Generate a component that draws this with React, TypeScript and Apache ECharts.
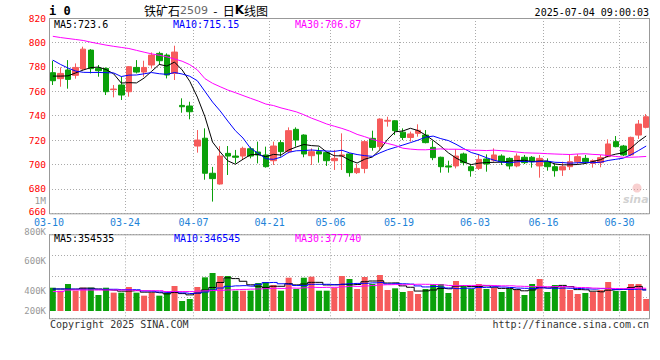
import React, { useEffect, useRef } from 'react';
import * as echarts from 'echarts';

const dates = [
  '03-10','03-11','03-12','03-13','03-14','03-17','03-18','03-19','03-20','03-21',
  '03-24','03-25','03-26','03-27','03-28','03-31','04-01','04-02','04-03','04-07',
  '04-08','04-09','04-10','04-11','04-14','04-15','04-16','04-17','04-18','04-21',
  '04-22','04-23','04-24','04-25','04-28','04-29','04-30','05-06','05-07','05-08',
  '05-09','05-12','05-13','05-14','05-15','05-16','05-19','05-20','05-21','05-22',
  '05-23','05-26','05-27','05-28','05-29','05-30','06-03','06-04','06-05','06-06',
  '06-09','06-10','06-11','06-12','06-13','06-16','06-17','06-18','06-19','06-20',
  '06-23','06-24','06-25','06-26','06-27','06-30','07-01','07-02','07-03'
];
const nextDate = '07-04';
const labelDates = ['03-10','03-24','04-07','04-21','05-06','05-19','06-03','06-16','06-30'];

const opens = [
  775.2,770.3,777.4,773.0,778.2,793.7,778.7,778.7,761.3,765.1,
  759.6,779.5,775.7,781.5,791.0,789.6,774.6,748.4,747.9,715.1,
  721.5,692.8,684.0,709.1,706.9,706.9,712.9,710.2,707.8,703.1,
  717.9,710.5,728.8,724.1,707.2,710.5,709.7,703.1,706.9,708.6,
  693.3,696.8,721.4,714.6,735.5,735.8,726.5,722.1,725.5,724.1,
  714.0,705.9,698.8,698.8,708.6,698.2,696.8,704.5,703.5,706.9,
  705.0,698.8,705.9,705.9,698.8,702.3,698.2,695.5,698.2,702.3,
  705.0,700.9,701.5,706.4,718.7,715.1,707.8,724.1,730.4
];
const closes = [
  768.6,774.6,769.7,779.5,794.5,778.5,776.8,759.6,761.8,756.9,
  780.1,775.7,779.5,789.6,785.0,773.3,792.1,747.3,743.2,720.0,
  692.8,688.4,706.9,706.9,705.9,713.2,706.9,707.8,698.2,715.1,
  710.5,727.7,720.0,708.6,710.5,708.6,703.1,705.0,707.8,693.3,
  696.8,718.7,714.0,737.2,736.2,727.7,722.1,725.0,728.0,717.9,
  705.6,698.2,697.9,706.9,701.5,694.9,704.2,700.4,707.8,702.3,
  698.8,706.9,701.5,702.3,705.0,698.2,694.9,698.2,702.3,706.4,
  702.3,703.1,705.6,716.8,714.6,707.8,722.2,733.1,739.1
];
const lows = [
  765.1,763.7,762.1,770.3,777.4,774.6,771.9,756.9,755.0,752.8,
  755.5,774.6,771.9,778.7,781.5,770.5,769.2,742.4,737.0,709.7,
  687.5,669.6,683.5,691.4,700.9,703.7,705.0,700.9,697.4,699.6,
  706.4,709.1,714.6,705.9,699.6,701.5,698.8,695.5,695.5,690.0,
  692.2,692.8,711.3,712.4,731.0,724.1,720.0,718.7,722.8,717.3,
  703.5,693.3,693.3,696.8,699.3,690.0,695.5,694.1,702.3,699.6,
  696.0,697.7,700.4,697.4,689.2,694.9,690.0,690.6,695.5,700.4,
  700.4,697.4,697.7,705.9,714.0,706.9,706.9,720.9,729.6
];
const highs = [
  785.0,779.5,785.5,782.8,796.5,794.5,781.5,779.5,765.1,771.9,
  780.6,785.5,785.0,791.8,792.4,791.0,797.3,754.2,751.4,728.2,
  729.6,698.0,715.0,715.1,711.9,714.6,714.6,718.7,714.6,718.7,
  720.0,730.4,730.4,724.7,713.2,714.0,710.5,711.9,725.5,709.1,
  700.4,720.0,727.7,737.8,739.1,736.2,729.6,726.9,732.9,728.2,
  719.5,706.4,703.1,712.4,709.7,700.4,708.6,708.3,713.2,708.3,
  705.9,709.1,707.8,706.9,707.8,705.0,700.9,702.3,707.8,708.6,
  707.8,704.2,707.8,720.6,723.3,716.0,722.8,736.4,741.3
];
const volumes = [
  382300,358900,411200,358900,382300,382300,325200,382300,343400,343400,
  387700,343400,319900,343400,319900,343400,395600,278200,293900,387700,
  463300,497300,473800,473800,358900,358900,358900,419000,426900,403400,
  358900,460500,372100,460500,468300,358900,358900,382300,473800,450300,
  372100,466000,411200,481600,364300,377500,348600,356500,333000,372100,
  411200,411200,340800,434700,395600,372100,411200,372100,379900,348600,
  372100,364300,325200,411200,450300,348600,403400,387700,364300,333000,
  340800,348600,364300,426900,356500,356500,411200,411200,293900
];

// moving-average values before enough history is visible
const ma5Lead = [772.4, 772.4, 772.6, 775.0];
const ma10Lead = [785.5, 782.0, 779.0, 776.5, 775.5, 775.4, 775.4, 775.2, 775.0];
const ma30Lead = [
  805.0,804.0,803.2,802.4,801.6,800.2,799.0,797.8,796.8,795.9,
  795.0,793.5,792.0,790.6,789.5,788.2,786.4,784.6,781.8,777.5,
  770.3,766.5,763.7,761.0,758.8,756.5,754.2,752.0,749.5
];
const vma5Lead = [372000, 372000, 370000, 371000];
const vma10Lead = [372000, 372000, 372000, 371000, 371000, 371000, 370000, 370000, 370000];
const vma30Lead = [
  352000,352000,364000,364000,364000,364000,364000,364000,364000,364000,
  364000,359000,359000,359000,359000,352000,352000,352000,352000,356000,
  358000,360000,362000,365000,367000,369000,371000,373000,375000
];

const priceMin = 660, priceMax = 820, priceStep = 20;
const volMin = 200000, volMax = 800000, volStep = 200000;
const volTickText: Record<number, string> = { 800000: '800K', 600000: '600K', 400000: '400K', 200000: '200K' };

const legendMain = ['MA5:723.6', 'MA10:715.15', 'MA30:706.87'];
const legendVol = ['MA5:354535', 'MA10:346545', 'MA30:377740'];

function movingAvg(vals: number[], n: number, lead: number[]) {
  return vals.map((_, i) => {
    if (i < n - 1) return lead[i];
    let s = 0;
    for (let k = i - n + 1; k <= i; k++) s += vals[k];
    return +(s / n).toFixed(2);
  });
}

const RED = '#f65b5b';
const GREEN = '#0aa00a';
const MONO = '"DejaVu Sans Mono", "Liberation Mono", monospace';
const GRIDC = '#aaaaaa';
const FRAME = '#999999';

const L = 49, W = 601;
const T1 = 18, H1 = 195.3;
const T2 = 234.3, H2 = 76.7, H2F = 84;

export default function App() {
  const ref = useRef<HTMLDivElement>(null);
  useEffect(() => {
    document.body.style.margin = '0';
    const chart = echarts.init(ref.current!, null, { renderer: 'svg' });
    const slots = dates.concat([nextDate]);
    const isLabel = (_i: number, v: string) => labelDates.includes(v);
    const isGrid = (i: number, v: string) => i > 0 && labelDates.includes(v);
    const dotted = { color: GRIDC, type: [1, 2] as any, width: 1 };
    const volRich = (pad: number[]) => ({ color: '#999999', fontFamily: MONO, fontSize: 9, lineHeight: 9, padding: pad });
    const priceRich = (pad: number[]) => ({ color: '#ff0000', fontFamily: MONO, fontSize: 9.5, lineHeight: 9, padding: pad });

    const ma5 = movingAvg(closes, 5, ma5Lead);
    const ma10 = movingAvg(closes, 10, ma10Lead);
    const ma30 = movingAvg(closes, 30, ma30Lead);
    const vma5 = movingAvg(volumes, 5, vma5Lead);
    const vma10 = movingAvg(volumes, 10, vma10Lead);
    const vma30 = movingAvg(volumes, 30, vma30Lead);

    const option: any = {
      animation: false,
      backgroundColor: '#ffffff',
      grid: [
        { left: L, top: T1, width: W, height: H1 },
        { left: L, top: T2, width: W, height: H2 },
        { left: L, top: T2, width: W, height: H2F },
      ],
      xAxis: [
        { type: 'category', gridIndex: 0, data: dates, boundaryGap: true, axisLine: { show: false }, axisTick: { show: false }, axisLabel: { show: false }, splitLine: { show: false } },
        {
          type: 'category', gridIndex: 0, data: slots, boundaryGap: false, position: 'bottom',
          axisLine: { show: false }, axisTick: { show: false },
          axisLabel: { interval: isLabel, color: '#1e83d8', fontFamily: MONO, fontSize: 10, margin: 4.5, lineHeight: 10 },
          splitLine: { show: true, interval: isGrid, lineStyle: dotted },
        },
        { type: 'category', gridIndex: 1, data: dates, boundaryGap: true, show: false },
        {
          type: 'category', gridIndex: 2, data: slots, boundaryGap: false,
          axisLine: { show: false }, axisTick: { show: false }, axisLabel: { show: false },
          splitLine: { show: true, interval: isGrid, lineStyle: dotted },
        },
      ],
      yAxis: [
        {
          type: 'value', gridIndex: 0, min: priceMin, max: priceMax, interval: priceStep,
          axisLine: { show: false }, axisTick: { show: false },
          axisLabel: {
            color: '#ff0000', fontFamily: MONO, fontSize: 9.5, lineHeight: 9, margin: 3,
            formatter: (v: number) => (v === priceMin ? '{lo|' + v + '}' : '{n|' + v + '}'),
            rich: { lo: priceRich([0, 0, 3, 0]), n: priceRich([0, 0, 0, 0]) },
          },
          splitLine: { show: true, lineStyle: dotted },
        },
        {
          type: 'value', gridIndex: 1, min: volMin, max: volMax, interval: volStep,
          axisLine: { show: false }, axisTick: { show: false }, splitLine: { show: false },
          axisLabel: {
            color: '#999999', fontFamily: MONO, fontSize: 9, margin: 3,
            formatter: (v: number) => {
              const t = volTickText[v] || '';
              if (v === 800000) return '{a|' + t + '}';
              if (v === 600000) return '{b|' + t + '}';
              if (v === 400000) return '{c|' + t + '}';
              return '{d|' + t + '}';
            },
            rich: {
              a: volRich([0, 0, 5, 0]),
              b: volRich([1.6, 0, 0, 0]),
              c: volRich([10.6, 0, 0, 0]),
              d: volRich([0, 0, 0, 0]),
            },
          },
        },
        {
          type: 'value', gridIndex: 2, min: 0, max: 4, interval: 1,
          axisLine: { show: false }, axisTick: { show: false }, axisLabel: { show: false },
          splitLine: { show: true, lineStyle: dotted },
        },
      ],
      series: [
        {
          type: 'candlestick', xAxisIndex: 0, yAxisIndex: 0, barWidth: 6,
          data: dates.map((_, i) => [opens[i], closes[i], lows[i], highs[i]]),
          itemStyle: { color: RED, color0: GREEN, borderColor: RED, borderColor0: GREEN, borderWidth: 1 },
        },
        { type: 'line', xAxisIndex: 0, yAxisIndex: 0, data: ma5, showSymbol: false, lineStyle: { color: '#000000', width: 1 }, z: 5 },
        { type: 'line', xAxisIndex: 0, yAxisIndex: 0, data: ma10, showSymbol: false, lineStyle: { color: '#0000ff', width: 1 }, z: 5 },
        { type: 'line', xAxisIndex: 0, yAxisIndex: 0, data: ma30, showSymbol: false, lineStyle: { color: '#ff00ff', width: 1 }, z: 5 },
        {
          type: 'bar', xAxisIndex: 2, yAxisIndex: 1, barWidth: 6,
          data: volumes.map((v, i) => ({ value: v, itemStyle: { color: closes[i] >= opens[i] ? RED : GREEN } })),
        },
        { type: 'line', xAxisIndex: 2, yAxisIndex: 1, data: vma5, step: 'middle', showSymbol: false, lineStyle: { color: '#000000', width: 1 }, z: 5 },
        { type: 'line', xAxisIndex: 2, yAxisIndex: 1, data: vma10, step: 'middle', showSymbol: false, lineStyle: { color: '#0000ff', width: 1 }, z: 5 },
        { type: 'line', xAxisIndex: 2, yAxisIndex: 1, data: vma30, step: 'middle', showSymbol: false, lineStyle: { color: '#ff00ff', width: 1 }, z: 5 },
      ],
      graphic: [
        { type: 'rect', silent: true, z: 100, shape: { x: L + 0.5, y: T1 + 0.5, width: W - 1, height: H1 }, style: { fill: 'none', stroke: FRAME, lineWidth: 1 } },
        { type: 'rect', silent: true, z: 100, shape: { x: L + 0.5, y: T2 + 0.5, width: W - 1, height: H2F }, style: { fill: 'none', stroke: FRAME, lineWidth: 1 } },
        { type: 'text', x: 49, y: 11, z: 100, style: { text: 'i 0', fill: '#000', font: 'bold 12px ' + MONO, textVerticalAlign: 'middle' } },
        {
          type: 'text', x: 206, y: 10, z: 100,
          style: {
            text: '{c|铁矿石}{g|2509}{c|  -  日}{k|K}{c|线图}', textAlign: 'center', textVerticalAlign: 'middle',
            rich: {
              c: { fontFamily: '"Noto Sans CJK SC"', fontSize: 12, fill: '#000' },
              g: { fontFamily: '"DejaVu Sans"', fontSize: 11, fill: '#666' },
              k: { fontFamily: '"DejaVu Sans"', fontSize: 12, fontWeight: 'bold', fill: '#000' },
            },
          },
        },
        { type: 'text', x: 649, y: 12, z: 100, style: { text: '2025-07-04 09:00:03', fill: '#000', font: '10px ' + MONO, textAlign: 'right', textVerticalAlign: 'middle' } },
        { type: 'text', x: 54, y: 24, z: 100, style: { text: legendMain[0], fill: '#000000', font: '10px ' + MONO, textVerticalAlign: 'middle' } },
        { type: 'text', x: 173, y: 24, z: 100, style: { text: legendMain[1], fill: '#0000ff', font: '10px ' + MONO, textVerticalAlign: 'middle' } },
        { type: 'text', x: 295, y: 24, z: 100, style: { text: legendMain[2], fill: '#ff00ff', font: '10px ' + MONO, textVerticalAlign: 'middle' } },
        { type: 'text', x: 54, y: 238.5, z: 100, style: { text: legendVol[0], fill: '#000000', font: '10px ' + MONO, textVerticalAlign: 'middle' } },
        { type: 'text', x: 174, y: 238.5, z: 100, style: { text: legendVol[1], fill: '#0000ff', font: '10px ' + MONO, textVerticalAlign: 'middle' } },
        { type: 'text', x: 295, y: 238.5, z: 100, style: { text: legendVol[2], fill: '#ff00ff', font: '10px ' + MONO, textVerticalAlign: 'middle' } },
        { type: 'text', x: 46, y: 200.7, z: 100, style: { text: '1M', fill: '#999999', font: '9.5px ' + MONO, textAlign: 'right', textVerticalAlign: 'middle' } },
        { type: 'text', x: 50, y: 324, z: 100, style: { text: 'Copyright 2025 SINA.COM', fill: '#333333', font: '10px ' + MONO, textVerticalAlign: 'middle' } },
        { type: 'text', x: 649, y: 324, z: 100, style: { text: 'http://finance.sina.com.cn', fill: '#333333', font: '10px ' + MONO, textAlign: 'right', textVerticalAlign: 'middle' } },
        { type: 'circle', z: 90, silent: true, shape: { cx: 637, cy: 188, r: 4.5 }, style: { fill: 'rgba(240,150,150,0.45)' } },
        { type: 'text', x: 623, y: 199, z: 90, style: { text: 'sina', fill: 'rgba(170,170,170,0.55)', font: 'italic bold 11px "DejaVu Sans"', textVerticalAlign: 'middle' } },
      ],
    };
    chart.setOption(option);
    return () => chart.dispose();
  }, []);
  return <div ref={ref} style={{ width: 660, height: 360, background: '#fff' }} />;
}
